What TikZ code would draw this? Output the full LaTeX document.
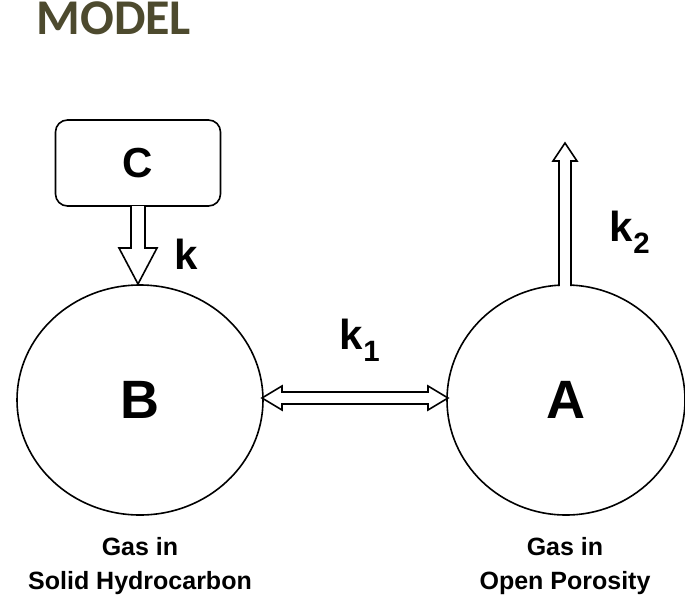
\documentclass[tikz,border=0pt]{standalone}
\usetikzlibrary{shapes.geometric}
\usepackage{fontspec}
\setmainfont{Liberation Sans}
\newfontfamily\carl{Carlito}
\begin{document}
\begin{tikzpicture}[x=1pt,y=-1pt,
  lbl/.style={font=\bfseries\fontsize{42}{44}\selectfont},
  big/.style={font=\bfseries\fontsize{54}{56}\selectfont},
  capt/.style={font=\bfseries\fontsize{25}{34}\selectfont,align=center},
  arr/.style={draw=black,line width=1.6pt,fill=white,line join=miter}]
\useasboundingbox (0,0) rectangle (685,606);
\definecolor{olive}{HTML}{4D4A2E}
\node[font=\carl\bfseries\fontsize{50}{52}\selectfont,text=olive,anchor=west] (t) at (33,18) {MODEL};
\node[draw,line width=1.6pt,rounded corners=12pt,minimum width=165pt,minimum height=86pt,lbl] (c) at (138,163) {C};
\node[draw,ellipse,line width=1.6pt,minimum width=246pt,minimum height=230pt,big] (b) at (140,400) {B};
\node[draw,ellipse,line width=1.6pt,minimum width=238pt,minimum height=230pt,big] (a) at (566,400) {A};
\draw[arr] (131,206) -- (131,248) -- (119,248) -- (138,284) -- (157,248) -- (145,248) -- (145,206);
\draw[arr] (262,398) -- (282,386) -- (282,392) -- (428,392) -- (428,386) -- (448,398) -- (428,410) -- (428,404) -- (282,404) -- (282,410) -- cycle;
\draw[arr] (559,286) -- (559,161) -- (553,161) -- (565,143) -- (577,161) -- (571,161) -- (571,286);
\node[lbl] (k) at (186,254) {k};
\node[lbl] (k1) at (360,340) {k\textsubscript{1}};
\node[lbl] (k2) at (630,232) {k\textsubscript{2}};
\node[capt] (lb) at (140,566) {Gas in\\Solid Hydrocarbon};
\node[capt] (la) at (565,566) {Gas in\\Open Porosity};
\end{tikzpicture}
\end{document}
